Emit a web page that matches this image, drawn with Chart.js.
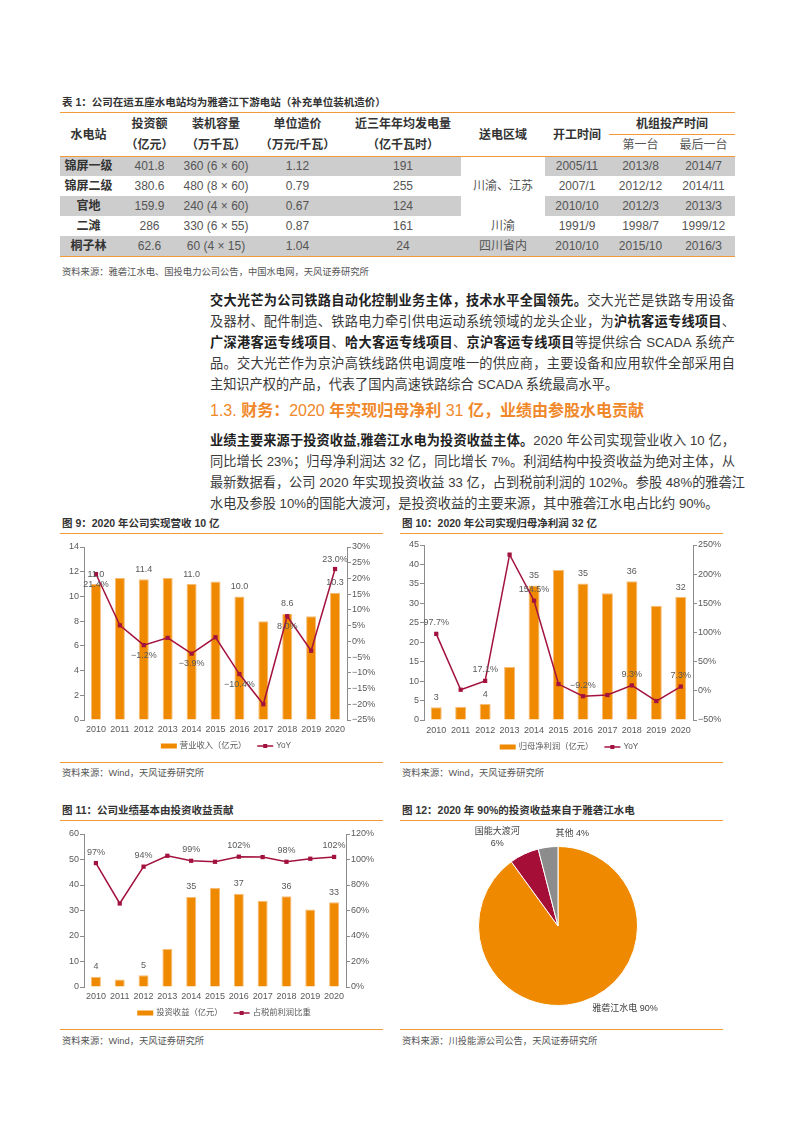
<!DOCTYPE html>
<html lang="zh-CN">
<head>
<meta charset="utf-8">
<title>川投能源 图表</title>
<script src="https://cdn.jsdelivr.net/npm/chart.js@4.4.1/dist/chart.umd.min.js"></script>
<style>
  html, body { margin: 0; padding: 0; background: #fff; }
  body { position: relative; width: 793px; height: 1122px; overflow: hidden;
         font-family: "Liberation Sans", "Noto Sans CJK SC", sans-serif; color: #333; }
  .abs { position: absolute; }
  .cap { font-size: 10.5px; font-weight: bold; color: #333; white-space: nowrap; line-height: 14px; }
  .src { font-size: 9.3px; color: #555; white-space: nowrap; line-height: 12px; }
  .rule { height: 0; border-top: 1.5px solid #F29A3A; }
  table.t { position: absolute; left: 60px; top: 113px; width: 675px; border-collapse: collapse; table-layout: fixed; }
  table.t td { padding: 0; text-align: center; vertical-align: middle; font-size: 12px; color: #555;
               line-height: 20px; height: 20px; white-space: nowrap; }
  table.t tr.h1 td { height: 21px; }
  table.t tr.h2 td { height: 22px; }
  table.t td.hb { font-weight: bold; color: #333; }
  table.t td.nm { font-weight: bold; color: #333; }
  table.t tr.g td { background: #CDCDCD; }
  table.t tr.g td.w { background: #fff; }
  .para { position: absolute; left: 210px; width: 525px; font-size: 13.2px; line-height: 21px; color: #3a3a3a; }
  .para div { text-align: justify; text-align-last: justify; white-space: nowrap; height: 21px; }
  .para div.last { text-align: left; text-align-last: left; }
  .para b { color: #222; }
  .head { position: absolute; left: 210px; top: 400px; font-size: 16px; line-height: 22px; color: #F0882A; white-space: nowrap; }
  .head b { font-weight: bold; }
  canvas { position: absolute; }
</style>
</head>
<body>

<div class="abs cap" style="left:62px; top:95px;">表 1：公司在运五座水电站均为雅砻江下游电站（补充单位装机造价）</div>
<div class="abs rule" style="left:60px; top:112px; width:675px;"></div>
<table class="t">
  <colgroup>
    <col style="width:57px"><col style="width:65px"><col style="width:68px"><col style="width:95px"><col style="width:116px">
    <col style="width:84px"><col style="width:64px"><col style="width:63px"><col style="width:63px">
  </colgroup>
  <tr class="h1">
    <td rowspan="2" class="hb">水电站</td><td class="hb">投资额</td><td class="hb">装机容量</td><td class="hb">单位造价</td>
    <td class="hb">近三年年均发电量</td><td rowspan="2" class="hb">送电区域</td><td rowspan="2" class="hb">开工时间</td>
    <td colspan="2" class="hb">机组投产时间</td>
  </tr>
  <tr class="h2">
    <td class="hb">（亿元）</td><td class="hb">（万千瓦）</td><td class="hb">（万元/千瓦）</td><td class="hb">（亿千瓦时）</td>
    <td>第一台</td><td>最后一台</td>
  </tr>
  <tr class="g"><td class="nm">锦屏一级</td><td>401.8</td><td>360 (6 × 60)</td><td>1.12</td><td>191</td>
    <td rowspan="3" class="w">川渝、江苏</td><td>2005/11</td><td>2013/8</td><td>2014/7</td></tr>
  <tr><td class="nm">锦屏二级</td><td>380.6</td><td>480 (8 × 60)</td><td>0.79</td><td>255</td>
    <td>2007/1</td><td>2012/12</td><td>2014/11</td></tr>
  <tr class="g"><td class="nm">官地</td><td>159.9</td><td>240 (4 × 60)</td><td>0.67</td><td>124</td>
    <td>2010/10</td><td>2012/3</td><td>2013/3</td></tr>
  <tr><td class="nm">二滩</td><td>286</td><td>330 (6 × 55)</td><td>0.87</td><td>161</td>
    <td>川渝</td><td>1991/9</td><td>1998/7</td><td>1999/12</td></tr>
  <tr class="g"><td class="nm">桐子林</td><td>62.6</td><td>60 (4 × 15)</td><td>1.04</td><td>24</td>
    <td>四川省内</td><td>2010/10</td><td>2015/10</td><td>2016/3</td></tr>
</table>
<div class="abs" style="left:609px; top:134px; width:126px; border-top:1px solid #F29A3A;"></div>
<div class="abs" style="left:60px; top:156px; width:675px; border-top:1px solid #F29A3A;"></div>
<div class="abs rule" style="left:60px; top:256px; width:675px;"></div>
<div class="abs src" style="left:62px; top:266px;">资料来源：雅砻江水电、国投电力公司公告，中国水电网，天风证券研究所</div>

<div class="para" style="top:289.5px;">
  <div><b>交大光芒为公司铁路自动化控制业务主体，技术水平全国领先。</b>交大光芒是铁路专用设备</div>
  <div>及器材、配件制造、铁路电力牵引供电运动系统领域的龙头企业，为<b>沪杭客运专线项目</b>、</div>
  <div><b>广深港客运专线项目</b>、<b>哈大客运专线项目</b>、<b>京沪客运专线项目</b>等提供综合 SCADA 系统产</div>
  <div>品。交大光芒作为京沪高铁线路供电调度唯一的供应商，主要设备和应用软件全部采用自</div>
  <div class="last">主知识产权的产品，代表了国内高速铁路综合 SCADA 系统最高水平。</div>
</div>

<div class="head">1.3. <b>财务：</b>2020 <b>年实现归母净利</b> 31 <b>亿，业绩由参股水电贡献</b></div>

<div class="para" style="top:429.5px;">
  <div><b>业绩主要来源于投资收益,雅砻江水电为投资收益主体。</b>2020 年公司实现营业收入 10 亿，</div>
  <div>同比增长 23%；归母净利润达 32 亿，同比增长 7%。利润结构中投资收益为绝对主体，从</div>
  <div>最新数据看，公司 2020 年实现投资收益 33 亿，占到税前利润的 102%。参股 48%的雅砻江</div>
  <div class="last">水电及参股 10%的国能大渡河，是投资收益的主要来源，其中雅砻江水电占比约 90%。</div>
</div>

<!-- 图 9 -->
<div class="abs cap" style="left:62px; top:516px;">图 9：2020 年公司实现营收 10 亿</div>
<div class="abs rule" style="left:60px; top:533px; width:323px;"></div>
<canvas id="c9" width="324" height="226" style="left:60px; top:534px;"></canvas>
<div class="abs rule" style="left:60px; top:762px; width:323px;"></div>
<div class="abs src" style="left:62px; top:767px;">资料来源：Wind，天风证券研究所</div>

<!-- 图 10 -->
<div class="abs cap" style="left:402px; top:516px;">图 10：2020 年公司实现归母净利润 32 亿</div>
<div class="abs rule" style="left:400px; top:533px; width:323px;"></div>
<canvas id="c10" width="324" height="226" style="left:400px; top:534px;"></canvas>
<div class="abs rule" style="left:400px; top:762px; width:323px;"></div>
<div class="abs src" style="left:402px; top:767px;">资料来源：Wind，天风证券研究所</div>

<!-- 图 11 -->
<div class="abs cap" style="left:62px; top:803px;">图 11：公司业绩基本由投资收益贡献</div>
<div class="abs rule" style="left:60px; top:820px; width:323px;"></div>
<canvas id="c11" width="324" height="207" style="left:60px; top:821px;"></canvas>
<div class="abs rule" style="left:60px; top:1029px; width:323px;"></div>
<div class="abs src" style="left:62px; top:1035px;">资料来源：Wind，天风证券研究所</div>

<!-- 图 12 -->
<div class="abs cap" style="left:402px; top:803px;">图 12：2020 年 90%的投资收益来自于雅砻江水电</div>
<div class="abs rule" style="left:400px; top:820px; width:323px;"></div>
<canvas id="c12" width="324" height="207" style="left:400px; top:821px;"></canvas>
<div class="abs rule" style="left:400px; top:1029px; width:323px;"></div>
<div class="abs src" style="left:402px; top:1035px;">资料来源：川投能源公司公告，天风证券研究所</div>

<script>
// data
const years = ['2010', '2011', '2012', '2013', '2014', '2015', '2016', '2017', '2018', '2019', '2020'];
const revenue = [11.0, 11.5, 11.4, 11.5, 11.0, 11.2, 10.0, 8.0, 8.6, 8.4, 10.3];
const revenueYoY = [21.4, 5.1, -1.2, 1.1, -3.9, 1.3, -10.4, -20.0, 8.0, -3.0, 23.0];
const netProfit = [3.3, 3.4, 4.1, 13.6, 34.6, 38.6, 35.1, 32.6, 35.7, 29.4, 31.6];
const netProfitYoY = [97.7, 1.9, 17.1, 233.5, 154.5, 11.6, -9.2, -7.2, 9.3, -17.5, 7.3];
const investIncome = [4.0, 2.9, 4.6, 14.9, 35.3, 38.9, 36.6, 33.8, 35.6, 30.4, 33.2];
const investShare = [97.2, 65.5, 94.4, 102.9, 99.0, 98.2, 102.2, 101.9, 98.2, 100.6, 102.0];
const labelledYears = [0, 2, 4, 6, 8, 10];
const pieNames = ['雅砻江水电', '国能大渡河', '其他'];
const pieShares = [90, 6, 4];

const FONT = '"Liberation Sans", "Noto Sans CJK SC", sans-serif';
const ORANGE = '#EF8A00';
const CRIMSON = '#A3123E';
const AXIS = '#8C8C8C';
const TICK = '#595959';

Chart.defaults.font.family = FONT;
Chart.defaults.font.size = 9;
Chart.defaults.color = TICK;

function signed(v, digits) {
    return (v < 0 ? '\u2212' : '') + Math.abs(v).toFixed(digits);
}

// labels above / below chosen points
function valueTags(items) {
    return {
        id: 'valueTags',
        afterDatasetsDraw(chart) {
            const ctx = chart.ctx;
            ctx.save();
            ctx.font = '9px ' + FONT;
            ctx.fillStyle = TICK;
            ctx.textAlign = 'center';
            ctx.textBaseline = 'middle';
            items.forEach(it => {
                const meta = chart.getDatasetMeta(it.ds);
                const vals = chart.data.datasets[it.ds].data;
                labelledYears.forEach(i => {
                    const el = meta.data[i];
                    let down = it.side === 'below';
                    if ((it.flip || []).includes(i)) down = !down;
                    const y = down ? el.y + it.gap : el.y - it.gap;
                    ctx.fillText(signed(vals[i], it.digits) + (it.pct ? '%' : ''), el.x, y);
                });
            });
            ctx.restore();
        }
    };
}

// bar swatch + line-with-marker legend under the axis
function pairLegend(y, shift) {
    return {
        id: 'pairLegend',
        afterDraw(chart) {
            const ctx = chart.ctx;
            ctx.save();
            ctx.font = '8.3px ' + FONT;
            const sw = 16, gap1 = 3, gap2 = 11;
            const items = chart.data.datasets.map(d => ({ text: d.label, type: d.type, color: d.borderColor }));
            let total = 0;
            items.forEach((it, k) => {
                it.w = ctx.measureText(it.text).width;
                total += sw + gap1 + it.w + (k ? gap2 : 0);
            });
            let x = chart.width / 2 + shift - total / 2;
            items.forEach((it, k) => {
                if (k) x += gap2;
                if (it.type === 'bar') {
                    ctx.fillStyle = ORANGE;
                    ctx.fillRect(x, y - 2.5, sw, 5);
                } else {
                    ctx.strokeStyle = CRIMSON;
                    ctx.lineWidth = 1.5;
                    ctx.beginPath();
                    ctx.moveTo(x, y);
                    ctx.lineTo(x + sw, y);
                    ctx.stroke();
                    ctx.fillStyle = CRIMSON;
                    ctx.fillRect(x + sw / 2 - 2, y - 2, 4, 4);
                }
                x += sw + gap1;
                ctx.fillStyle = TICK;
                ctx.textAlign = 'left';
                ctx.textBaseline = 'middle';
                ctx.fillText(it.text, x, y);
                x += it.w;
            });
            ctx.restore();
        }
    };
}

function comboChart(id, o) {
    return new Chart(document.getElementById(id), {
        type: 'bar',
        data: {
            labels: years,
            datasets: [
                {
                    type: 'bar', label: o.barLabel, data: o.bars, yAxisID: 'y',
                    backgroundColor: ORANGE, borderColor: '#F6BC78', borderWidth: 1,
                    barPercentage: o.barPct, categoryPercentage: 1, order: 2
                },
                {
                    type: 'line', label: o.lineLabel, data: o.line, yAxisID: 'y1',
                    borderColor: CRIMSON, backgroundColor: CRIMSON, borderWidth: 1.5, tension: 0,
                    pointStyle: 'rect', pointRadius: 3, pointBackgroundColor: CRIMSON,
                    pointBorderColor: CRIMSON, pointBorderWidth: 0, order: 1
                }
            ]
        },
        options: {
            responsive: false,
            animation: false,
            layout: { padding: { top: o.top, left: 0, right: 0, bottom: 0 } },
            plugins: { legend: { display: false }, tooltip: { enabled: false } },
            scales: {
                x: {
                    grid: { display: false, drawTicks: false },
                    border: { display: false },
                    ticks: { color: TICK, padding: o.xPad, autoSkip: false, maxRotation: 0 },
                    afterFit: s => { s.height = o.xH; }
                },
                y: {
                    position: 'left', min: o.yMin, max: o.yMax,
                    ticks: { stepSize: o.yStep, padding: 1, color: TICK },
                    grid: { drawOnChartArea: false, tickLength: 4, color: AXIS },
                    border: { color: AXIS },
                    afterFit: s => { s.width = 24; }
                },
                y1: {
                    position: 'right', min: o.rMin, max: o.rMax,
                    ticks: { stepSize: o.rStep, padding: 1, color: TICK, callback: v => signed(v, 0) + '%' },
                    grid: { drawOnChartArea: false, tickLength: 4, color: AXIS },
                    border: { color: AXIS },
                    afterFit: s => { s.width = o.rightW; }
                }
            }
        },
        plugins: [valueTags(o.tags), pairLegend(o.legendY, o.legendShift)]
    });
}

comboChart('c9', {
    bars: revenue, line: revenueYoY, barLabel: '营业收入（亿元）', lineLabel: 'YoY',
    barPct: 0.42, top: 13, xH: 40, xPad: 4, rightW: 37,
    yMin: 0, yMax: 14, yStep: 2, rMin: -25, rMax: 30, rStep: 5,
    legendY: 212, legendShift: 4,
    tags: [
        { ds: 0, side: 'above', gap: 10, digits: 1 },
        { ds: 1, side: 'below', flip: [10], gap: 10, digits: 1, pct: true }
    ]
});

comboChart('c10', {
    bars: netProfit, line: netProfitYoY, barLabel: '归母净利润（亿元）', lineLabel: 'YoY',
    barPct: 0.45, top: 11, xH: 40, xPad: 5, rightW: 31,
    yMin: 0, yMax: 45, yStep: 5, rMin: -50, rMax: 250, rStep: 50,
    legendY: 213, legendShift: 7,
    tags: [
        { ds: 0, side: 'above', gap: 10, digits: 0 },
        { ds: 1, side: 'above', gap: 11, digits: 1, pct: true }
    ]
});

comboChart('c11', {
    bars: investIncome, line: investShare, barLabel: '投资收益（亿元）', lineLabel: '占税前利润比重',
    barPct: 0.42, top: 13, xH: 41, xPad: 4, rightW: 38,
    yMin: 0, yMax: 60, yStep: 10, rMin: 0, rMax: 120, rStep: 20,
    legendY: 192, legendShift: 2,
    tags: [
        { ds: 0, side: 'above', gap: 10, digits: 0 },
        { ds: 1, side: 'above', gap: 11, digits: 0, pct: true }
    ]
});

// pie labels placed just outside each slice, nudged like the original
function pieTags(nudges, wrapIdx) {
    return {
        id: 'pieTags',
        afterDatasetsDraw(chart) {
            const ctx = chart.ctx;
            const meta = chart.getDatasetMeta(0);
            const vals = chart.data.datasets[0].data;
            ctx.save();
            ctx.font = '9px ' + FONT;
            ctx.fillStyle = '#404040';
            ctx.textAlign = 'center';
            ctx.textBaseline = 'middle';
            meta.data.forEach((arc, i) => {
                const mid = (arc.startAngle + arc.endAngle) / 2;
                const r = arc.outerRadius + 14;
                const x = arc.x + Math.cos(mid) * r + nudges[i][0];
                const y = arc.y + Math.sin(mid) * r + nudges[i][1];
                const name = chart.data.labels[i];
                const pct = vals[i] + '%';
                if (wrapIdx.includes(i)) {
                    ctx.fillText(name, x, y - 6.3);
                    ctx.fillText(pct, x, y + 6.3);
                } else {
                    ctx.fillText(name + ' ' + pct, x, y);
                }
            });
            ctx.restore();
        }
    };
}

new Chart(document.getElementById('c12'), {
    type: 'pie',
    data: {
        labels: pieNames,
        datasets: [{
            data: pieShares,
            backgroundColor: [ORANGE, '#A50F37', '#8C8C8C'],
            borderColor: '#fff',
            borderWidth: 1,
            hoverOffset: 0
        }]
    },
    options: {
        responsive: false,
        animation: false,
        layout: { padding: { left: 78, right: 86, top: 25, bottom: 22 } },
        plugins: { legend: { display: false }, tooltip: { enabled: false } }
    },
    plugins: [pieTags([[38, -6], [-21, -4], [26, 0]], [1])]
});
</script>
</body>
</html>
